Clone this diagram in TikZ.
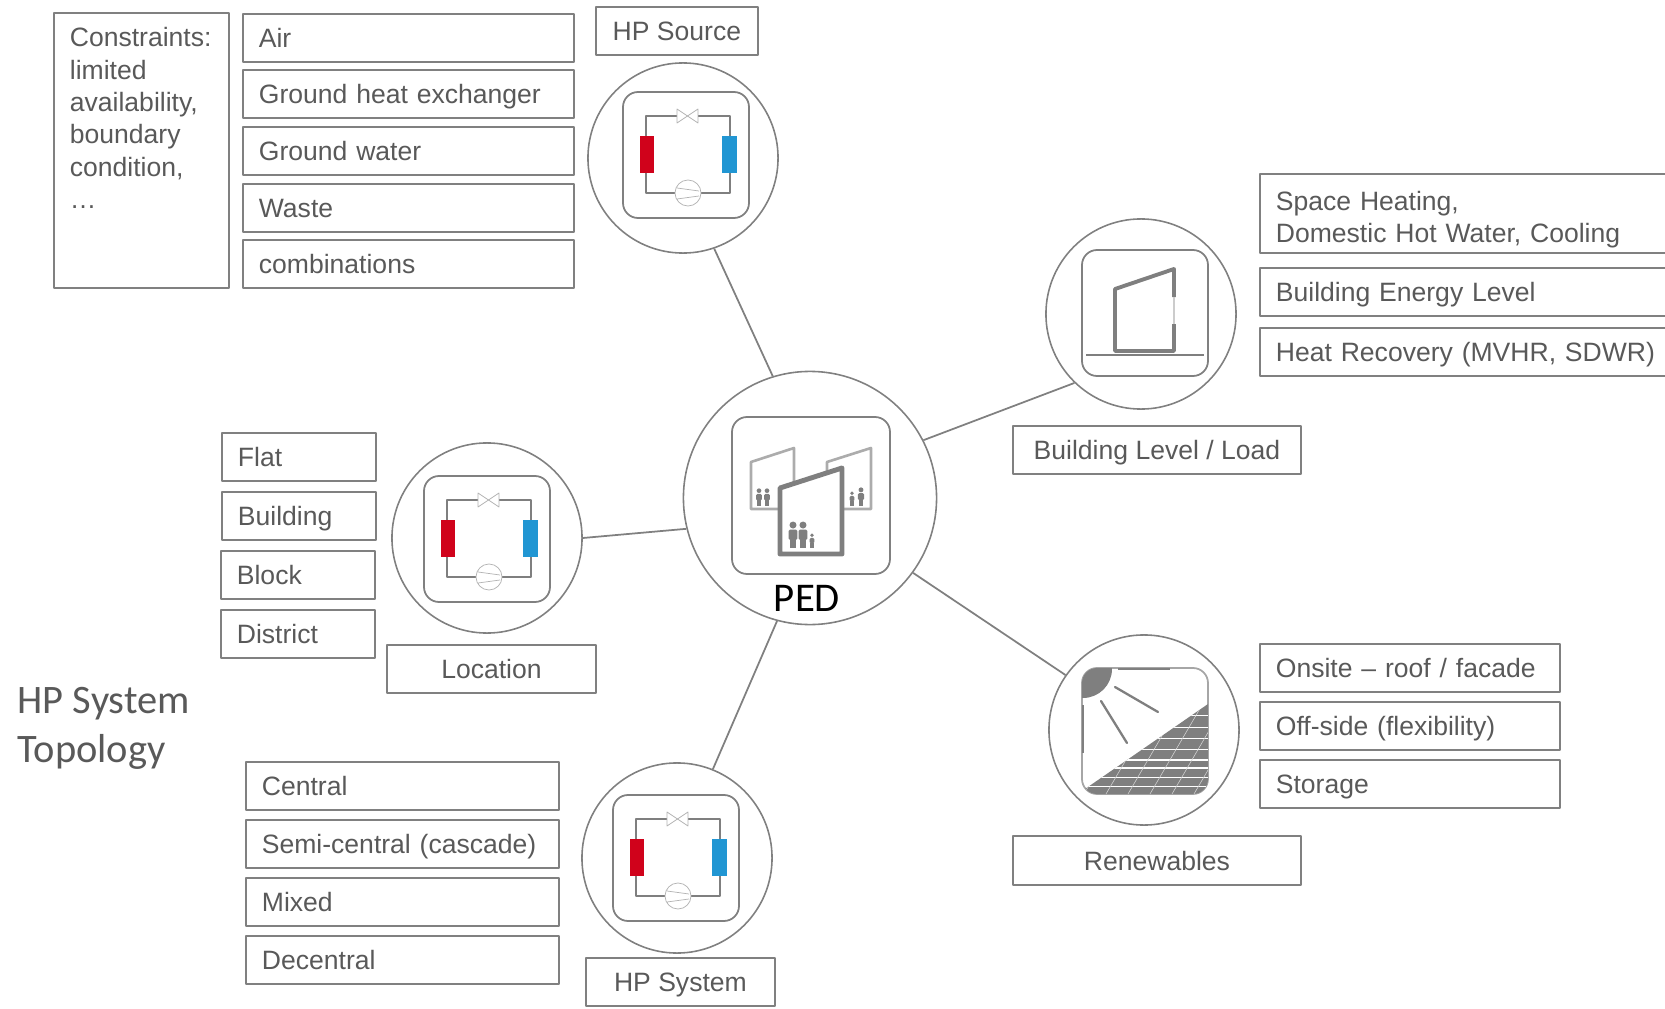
\documentclass[tikz,border=0pt]{standalone}
\usepackage{fontspec}
\setmainfont{Liberation Sans}
\newfontfamily\calfont{Carlito}
\definecolor{boxgray}{HTML}{808080}
\definecolor{txtgray}{HTML}{595959}
\definecolor{icongray}{HTML}{7F7F7F}
\definecolor{hpred}{HTML}{D0021B}
\definecolor{hpblue}{HTML}{2196D3}
\tikzset{
	optbox/.style={draw=boxgray,line width=0.5pt,anchor=north west,align=left,inner xsep=0.16cm,inner ysep=0pt,text height=0.26cm,text depth=0.06cm,font=\fontsize{7.55}{9.2}\selectfont,text=txtgray},
	capbox/.style={draw=boxgray,line width=0.5pt,anchor=north west,align=center,inner sep=0pt,text height=0.26cm,text depth=0.06cm,font=\fontsize{7.55}{9.2}\selectfont,text=txtgray},
	topic/.style={circle,draw=boxgray,line width=0.45pt,inner sep=0pt,minimum size=1.9cm},
	link/.style={draw=boxgray,line width=0.5pt},
	iconsq/.style={draw=boxgray,line width=0.5pt,rounded corners=0.15cm},
	pics/person/.style={code={
		\fill (0,-0.85) circle(0.13);
		\fill[rounded corners=0.4pt] (-0.16,-0.68) rectangle (0.16,-0.3);
		\fill (-0.11,-0.32) rectangle (0.11,0);
	}},
	pics/hpcircuit/.style={code={
		\draw[iconsq,fill=white] (-63,-63) rectangle (63,63);
		\draw[icongray,line width=0.35pt] (-9,-39)--(-40,-39)--(-40,38)--(-11,38) (15,38)--(44,38)--(44,-39)--(12,-39);
		\draw[boxgray!60,line width=0.2pt] (2,38) circle(13) (-9,33)--(13,36) (-9,44)--(13,41);
		\draw[boxgray!60,line width=0.2pt] (-9,-46)--(12,-32)--(12,-46)--(-9,-32)--cycle;
		\fill[hpred] (-46,-19) rectangle (-32,18);
		\fill[hpblue] (36,-19) rectangle (51,18);
	}}
}
\begin{document}
\begin{tikzpicture}[x=0.01cm,y=-0.01cm,line join=round]
	\useasboundingbox (0,0) rectangle (1665,1009);
	% topic circles
	\node[topic] (src) at (683,158) {};
	\node[topic] (bld) at (1141,314) {};
	\node[topic] (loc) at (487,538) {};
	\node[topic] (sys) at (677,858) {};
	\node[topic] (ren) at (1144,730) {};
	\node[topic,minimum size=2.53cm] (ped) at (810,498) {};
	\draw[link] (ped.107.7)--(src.-71.6) (ped.27)--(bld.-134) (ped.-36)--(ren.145) (ped.-105.5)--(sys.68.4) (ped.194.6)--(loc.0);
	% heat pump icons
	\pic at (686,155) {hpcircuit};
	\pic at (487,539) {hpcircuit};
	\pic at (676,858) {hpcircuit};
	% PED icon
	\draw[iconsq] (732,417) rectangle (890,574);
	\draw[boxgray!65,line width=0.75pt] (751,509)--(751,462)--(794,448)--(794,509)--cycle (827,509)--(827,462)--(871,448)--(871,509)--cycle;
	\draw[icongray,line width=1.4pt,fill=white] (780,554)--(780,488)--(842,468)--(842,554)--cycle;
	\begin{scope}[icongray]
		\foreach \x/\y/\h in {793/548/27,803/548/27,812/548/15}{\pic[scale=\h] at (\x,\y) {person};}
		\foreach \x/\y/\h in {759/506/18,767/506/18,852/506/15,861/506/19}{\pic[scale=\h] at (\x,\y) {person};}
	\end{scope}
	\node[font=\calfont\fontsize{11.6}{13}\selectfont,text=black,inner sep=0pt] (pedlabel) at (807,598) {PED};
	% building icon
	\draw[iconsq] (1082,250) rectangle (1208,376);
	\draw[icongray,line width=1.1pt] (1174,297)--(1174,269)--(1115,289)--(1115,351)--(1174,351)--(1174,324);
	\draw[boxgray!40,line width=0.3pt] (1174,297)--(1174,324);
	\draw[icongray,line width=0.4pt] (1086,355)--(1204,355);
	% renewables icon
	\draw[iconsq,draw=boxgray!70] (1082,668) rectangle (1208,794);
	\begin{scope}
		\clip[rounded corners=0.15cm] (1082,668) rectangle (1208,794);
		\fill[icongray] (1083,669) circle(29);
		\fill[icongray] (1085,789)--(1208,704)--(1208,794)--(1085,794)--cycle;
		\clip (1085,789)--(1208,704)--(1208,794)--(1085,794)--cycle;
		\foreach \y in {715,727,738,749,777,786}{\draw[white,line width=0.2pt] (1085,\y)--(1208,\y);}
		\foreach \y in {760,768}{\draw[white,line width=0.45pt] (1085,\y)--(1208,\y);}
		\foreach \x in {1040,1062,...,1260}{\draw[white!70!icongray,line width=0.15pt] (\x,794)--(\x+55,700);}
	\end{scope}
	\draw[icongray,line width=0.7pt] (1118,669)--(1170,669) (1083,705)--(1083,753);
	\draw[icongray,line width=0.65pt,line cap=round] (1115,687)--(1158,712) (1101,701)--(1127,743);
	% boxes of the stacks
	\node[optbox,text width=1.43cm,minimum height=2.75cm] (cons) at (53,12) {};
	\node[optbox,draw=none,text width=1.43cm] (constxt) at (53,20) {Constraints:\\limited\\availability,\\boundary\\condition,\\\ldots};
	\foreach \nm/\y/\txt in {air/13/Air,ghx/69/Ground heat exchanger,gwt/126/Ground water,wst/183/Waste,cmb/239/combinations}{
		\node[optbox,text width=2.99cm,minimum height=0.48cm] (\nm) at (242,\y) {\txt};}
	\foreach \nm/\x/\y/\txt in {flt/221/432/Flat,bdg/221/491/Building,blk/220/550/Block,dst/220/609/District}{
		\node[optbox,text width=1.22cm,minimum height=0.48cm] (\nm) at (\x,\y) {\txt};}
	\foreach \nm/\y/\txt in {cen/761/Central,sem/819/Semi-central (cascade),mix/877/Mixed,dec/935/Decentral}{
		\node[optbox,text width=2.81cm,minimum height=0.48cm] (\nm) at (245,\y) {\txt};}
	\foreach \nm/\y/\txt in {ons/643/{Onsite – roof / facade},off/701/Off-side (flexibility),sto/759/Storage}{
		\node[optbox,text width=2.68cm,minimum height=0.48cm] (\nm) at (1259,\y) {\txt};}
	\foreach \nm/\y/\txt in {ben/267/Building Energy Level,hrc/327/{Heat Recovery (MVHR, SDWR)}}{
		\node[optbox,text width=3.95cm,minimum height=0.48cm] (\nm) at (1259,\y) {\txt};}
	\node[optbox,text height=,text depth=,text width=3.95cm,minimum height=0.79cm] (spc) at (1259,173) {\rule{0pt}{8.9pt}Space Heating,\\Domestic Hot Water, Cooling};
	% captions
	\node[capbox,minimum width=1.62cm,minimum height=0.48cm] (hpsrc) at (595,6) {HP Source};
	\node[capbox,minimum width=2.88cm,minimum height=0.48cm] (bldcap) at (1012,425) {Building Level / Load};
	\node[capbox,minimum width=2.09cm,minimum height=0.48cm] (loccap) at (386,644) {Location};
	\node[capbox,minimum width=2.88cm,minimum height=0.49cm] (rencap) at (1012,835) {Renewables};
	\node[capbox,minimum width=1.89cm,minimum height=0.48cm] (syscap) at (585,957) {HP System};
	\node[font=\calfont\fontsize{11.5}{14}\selectfont,text=txtgray,align=left,anchor=west,inner sep=0pt] (title) at (17,728) {HP System\\Topology};
\end{tikzpicture}
\end{document}
